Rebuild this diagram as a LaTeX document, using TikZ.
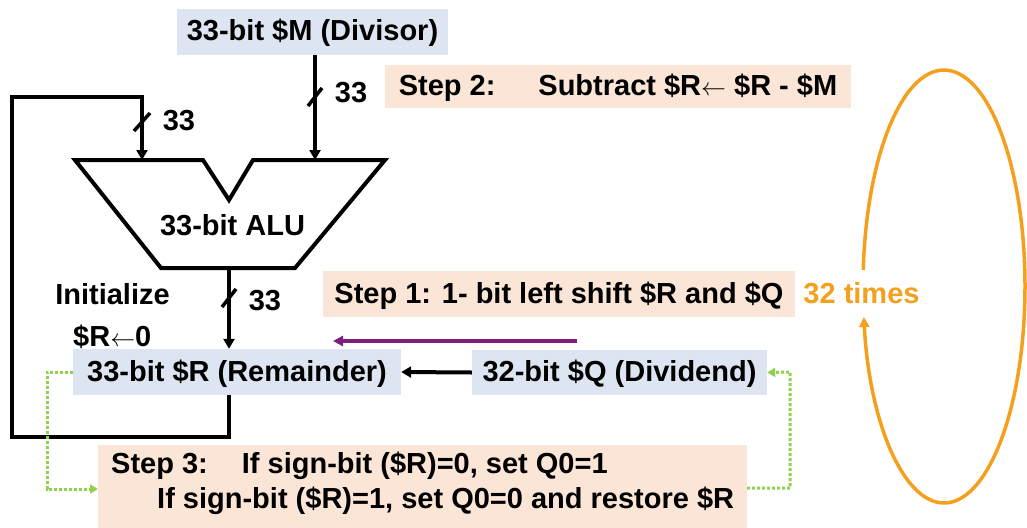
\documentclass[tikz,border=0pt]{standalone}
\usepackage{fontspec}
\setmainfont{Liberation Sans}
\usetikzlibrary{arrows.meta,calc}
\definecolor{boxblue}{RGB}{220,229,241}
\definecolor{boxpeach}{RGB}{251,229,214}
\definecolor{loopor}{RGB}{244,160,30}
\definecolor{shiftpur}{RGB}{125,30,125}
\definecolor{dotgreen}{RGB}{146,208,80}
\newcommand{\lblfont}{\fontsize{29}{35}\selectfont\bfseries}
\newcommand{\larr}{\(\leftarrow\)}
\begin{document}
\begin{tikzpicture}[x=1pt,y=-1pt,
  txt/.style={font=\lblfont, inner sep=0pt, text height=21pt, text depth=3pt},
  bluebox/.style={txt, fill=boxblue, minimum height=46pt},
  peachbox/.style={txt, fill=boxpeach},
  wire/.style={line width=4pt, black},
  tip/.style={-{Triangle[width=11pt,length=10pt]}},
  slash/.style={line width=3.5pt, black},
  gdot/.style={line width=3pt, dotgreen, dash pattern=on 3pt off 2pt, -{Triangle[width=9pt,length=8pt]}},
  purarrow/.style={line width=3.5pt, shiftpur, -{Triangle[width=10pt,length=10pt]}},
  looparrow/.style={line width=3.5pt, loopor, -{Triangle[width=10pt,length=10pt]}}
]
\useasboundingbox (0,0) rectangle (1027,527);

% boxes
\node[bluebox, minimum width=271pt] (M) at (312.5,32) {33-bit \$M (Divisor)};
\node[peachbox, minimum width=466pt, minimum height=43pt] (step2) at (618,86.5) {Step 2:\hspace{43pt}Subtract \$R\larr{} \$R - \$M};
\node[peachbox, minimum width=472pt, minimum height=46pt] (step1) at (559,294) {Step 1: 1- bit left shift \$R and \$Q};
\node[bluebox, minimum width=328pt] (R) at (237,372) {33-bit \$R (Remainder)};
\node[bluebox, minimum width=295pt, minimum height=45pt] (Q) at (619.5,372.5) {32-bit \$Q (Dividend)};
\node[fill=boxpeach, inner sep=0pt, minimum width=649pt, minimum height=86pt, anchor=north west] (step3) at (98,445) {};
\node[txt, anchor=base west] (s3a) at (111,473) {Step 3:\hspace{34pt}If sign-bit (\$R)=0, set Q0=1};
\node[txt, anchor=base west] (s3b) at (157,508) {If sign-bit (\$R)=1, set Q0=0 and restore \$R};

% ALU
\coordinate (aluA) at (142,160);
\coordinate (aluB) at (315,160);
\coordinate (aluOut) at (229,268);
\draw[wire, line join=miter] (75,160) -- (203,160) -- (229,200) -- (253,160) -- (385,160)
  -- (295,268) -- (161,268) -- cycle;
\node[txt] (alu) at (232.5,226.5) {33-bit ALU};

% labels
\node[txt] (w1) at (351,93.5) {33};
\node[txt] (w2) at (179,121) {33};
\node[txt] (w3) at (265,301) {33};
\node[txt] (init) at (112.5,295) {Initialize};
\node[txt, anchor=west] (init2) at (73,337.5) {\$R\larr0};
\node[txt, text=loopor] (times) at (861.5,294.5) {32 times};

% connectors
\draw[wire, tip] (M.south -| aluB) -- (aluB);
\draw[wire, tip] (R.south -| aluOut) -- (229,437) -| (12,97) -| (aluA);
\draw[wire, tip] (aluOut) -- (R.north -| aluOut);
\draw[wire, tip] (Q.west) -- (R.east);

% bus slashes
\draw[slash] ($(315,97)+(-7,9)$) -- ++(14,-18);
\draw[slash] ($(142,122)+(-8,9)$) -- ++(16,-18);
\draw[slash] ($(229,298)+(-7,9)$) -- ++(14,-18);

% purple shift arrow
\coordinate (pS) at (577,341);
\coordinate (pE) at (333,341);
\draw[purarrow] (pS) -- (pE);

% green dotted feedback
\coordinate (g1) at (98,489);
\coordinate (g2) at (747,488);
\draw[gdot] (R.west) -| (47,489) -- (g1);
\draw[gdot] (g2) -| (790,372) -- (Q.east);

% orange loop
\coordinate (lc) at (944,286.5);
\draw[looparrow] ($(lc)+({81*cos(184.4)},{216.5*sin(184.4)})$)
  arc[start angle=184.4, end angle=531.9, x radius=81, y radius=216.5];
\end{tikzpicture}
\end{document}
